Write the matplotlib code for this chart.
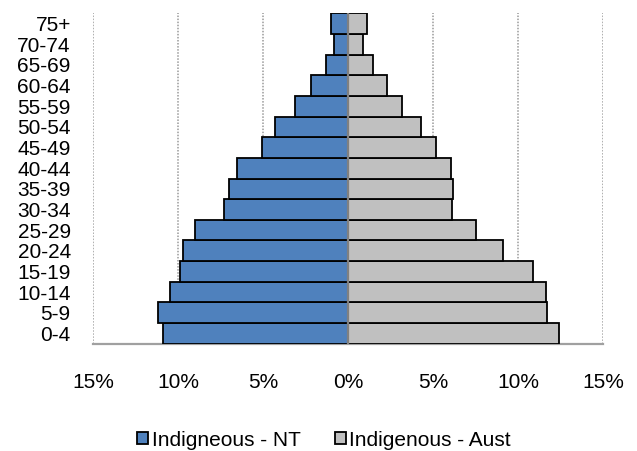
import matplotlib
matplotlib.use("Agg")
import matplotlib.pyplot as plt
import numpy as np

plt.rcParams["font.family"] = ["Liberation Sans", "DejaVu Sans"]

# age groups, youngest first (bottom of the pyramid)
age_groups = ["0-4", "5-9", "10-14", "15-19", "20-24", "25-29", "30-34", "35-39",
              "40-44", "45-49", "50-54", "55-59", "60-64", "65-69", "70-74", "75+"]
# share of population in each age group (%)
nt_pct = [10.9, 11.2, 10.5, 9.9, 9.7, 9.0, 7.3, 7.0,
          6.55, 5.05, 4.3, 3.1, 2.15, 1.3, 0.85, 1.0]
aust_pct = [12.4, 11.7, 11.65, 10.9, 9.1, 7.55, 6.1, 6.2,
            6.05, 5.15, 4.3, 3.2, 2.3, 1.45, 0.9, 1.1]
x_ticks = [-15, -10, -5, 0, 5, 10, 15]
x_labels = ["15%", "10%", "5%", "0%", "5%", "10%", "15%"]

BLUE = "#4F81BD"
GREY = "#C0C0C0"
FS = 15

fig = plt.figure(figsize=(6.37, 4.51), dpi=100)
ax = fig.add_axes([93 / 637, 1 - 343.7 / 451, 510 / 637, 330.4 / 451])

y = np.arange(len(age_groups))
ax.barh(y, -np.array(nt_pct), height=1.0, color=BLUE, edgecolor="black",
        linewidth=1.3, label="Indigneous - NT", zorder=3)
ax.barh(y, aust_pct, height=1.0, color=GREY, edgecolor="black",
        linewidth=1.3, label="Indigenous - Aust", zorder=3)
ax.axvline(0, color="#808080", lw=1.6, zorder=4)

ax.set_xlim(-15, 15)
ax.set_ylim(-0.5, len(age_groups) - 0.5)
for gx in [-15, -10, -5, 5, 10, 15]:
    ax.axvline(gx, color="#9a9a9a", lw=1.1, linestyle=(0, (1, 1)), zorder=1)

ax.set_yticks(y)
ax.set_yticklabels(age_groups, fontsize=FS)
ax.set_xticks(x_ticks)
ax.set_xticklabels(x_labels, fontsize=FS)
ax.tick_params(axis="y", length=0, pad=16)
ax.tick_params(axis="x", length=0, pad=21)

for side in ["top", "right", "left"]:
    ax.spines[side].set_visible(False)
ax.spines["bottom"].set_color("#a0a0a0")
ax.spines["bottom"].set_linewidth(1.6)

leg = fig.legend(loc="center", bbox_to_anchor=(324 / 637, 1 - 440 / 451), ncol=2,
                 frameon=False, fontsize=FS, handlelength=0.55, handleheight=0.55,
                 handletextpad=0.15, columnspacing=1.65)

fig.savefig("out.png", dpi=100)
